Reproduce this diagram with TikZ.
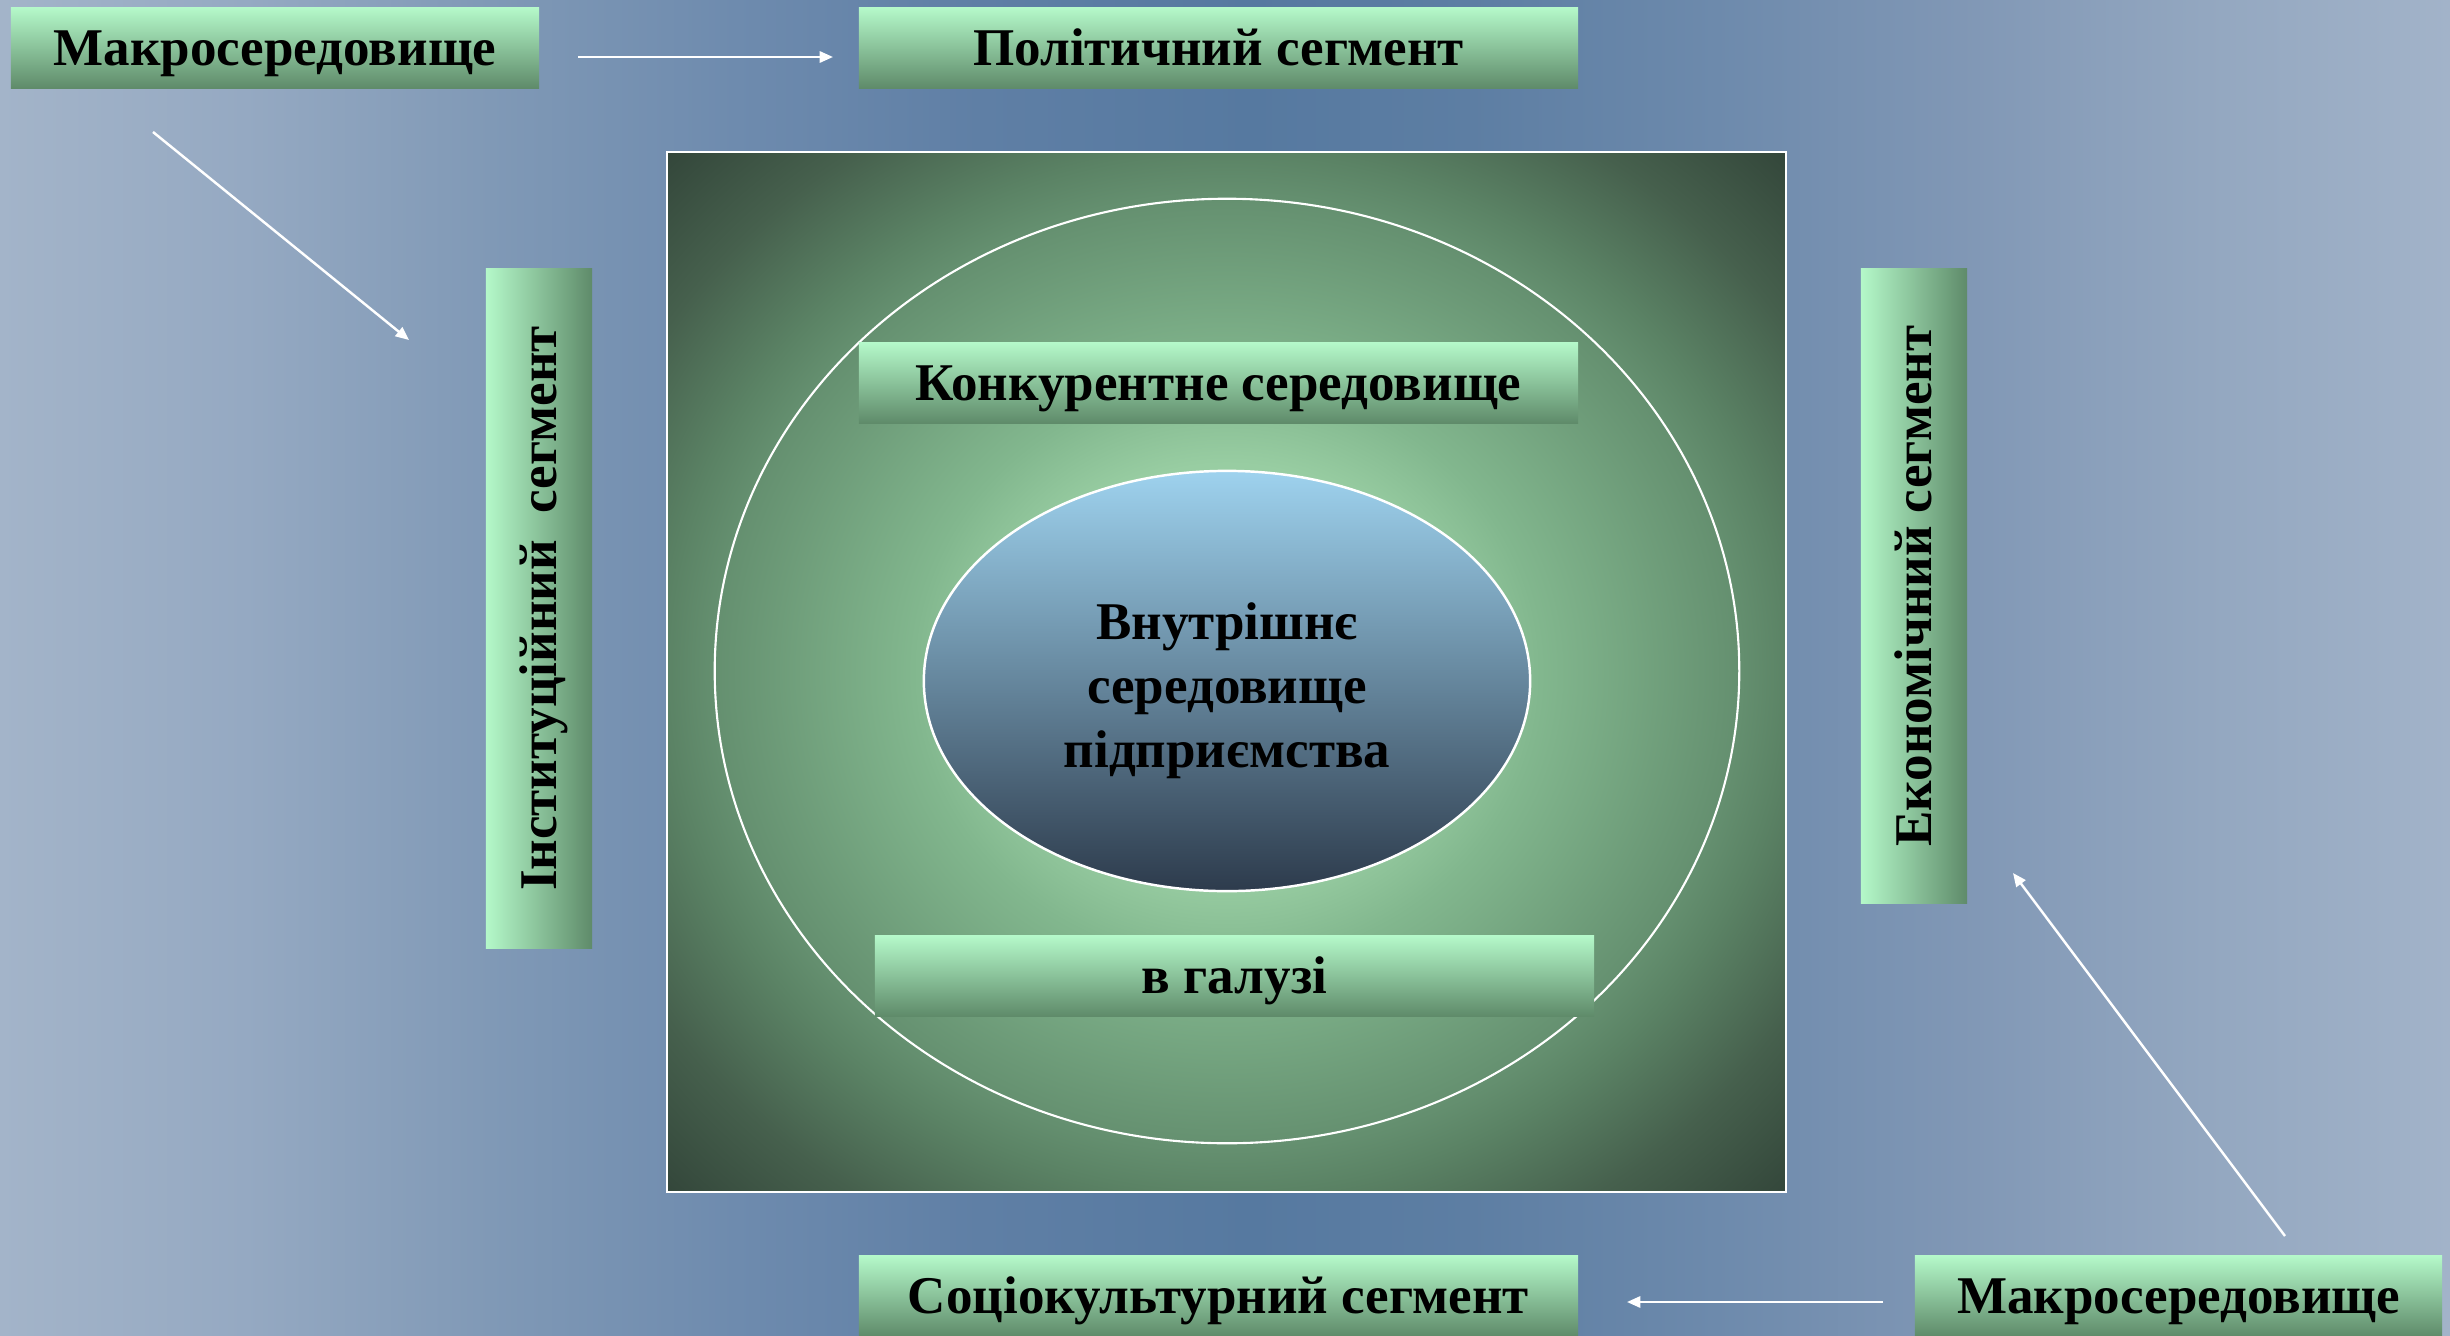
\documentclass[tikz,border=0pt]{standalone}
\usepackage{fontspec}
\setmainfont{Liberation Serif}
\usetikzlibrary{shapes.geometric,arrows.meta}
\definecolor{bgA}{HTML}{A3B4C9}
\definecolor{bgB}{HTML}{95A9C2}
\definecolor{bgC}{HTML}{8099B6}
\definecolor{bgD}{HTML}{6E8BAE}
\definecolor{bgE}{HTML}{5F7FA5}
\definecolor{bgF}{HTML}{5679A0}
\definecolor{bgG}{HTML}{5D7EA3}
\definecolor{bgH}{HTML}{6D8AAC}
\definecolor{bgI}{HTML}{8097B5}
\definecolor{bgJ}{HTML}{93A7C0}
\definecolor{bgK}{HTML}{A2B3C9}
\definecolor{boxtop}{HTML}{B4F8C9}
\definecolor{boxbot}{HTML}{5F8B6A}
\definecolor{gA}{HTML}{A6DDB0}
\definecolor{gB}{HTML}{98CDA2}
\definecolor{gC}{HTML}{82B78E}
\definecolor{gD}{HTML}{648F6F}
\definecolor{gE}{HTML}{5B8365}
\definecolor{gF}{HTML}{46604D}
\definecolor{gG}{HTML}{33463A}
\definecolor{elltop}{HTML}{9ED2EE}
\definecolor{ellbot}{HTML}{2D3B4C}
\pgfdeclareradialshading{sqglow}{\pgfpoint{0bp}{0bp}}{color(0bp)=(gA); color(10bp)=(gB); color(14bp)=(gC); color(23bp)=(gD); color(25bp)=(gE); color(30bp)=(gF); color(35.4bp)=(gG); color(50bp)=(gG)}
\pgfdeclarehorizontalshading{bgband}{100bp}{color(0bp)=(bgA); color(25bp)=(bgA); color(30bp)=(bgB); color(35bp)=(bgC); color(40bp)=(bgD); color(45bp)=(bgE); color(50.5bp)=(bgF); color(55bp)=(bgG); color(60bp)=(bgH); color(65bp)=(bgI); color(70bp)=(bgJ); color(75bp)=(bgK); color(100bp)=(bgK)}
\begin{document}
\begin{tikzpicture}[x=0.01cm,y=-0.01cm,
  txt/.style={font=\fontsize{15.08pt}{18.2pt}\selectfont\bfseries, text=black},
  hbox/.style={txt, shade, top color=boxtop, bottom color=boxbot, inner sep=0pt,
    minimum height=0.80cm, text height=9.98pt, text depth=0pt},
  vbox/.style={txt, shade, left color=boxtop, right color=boxbot, inner sep=0pt,
    minimum width=1.06cm},
  conn/.style={draw=white, line width=0.7pt, -{Triangle[length=3.8pt,width=3.2pt]}}]
\useasboundingbox (0,0) rectangle (2450,1336);
\shade[shading=bgband] (0,0) rectangle (2450,1336);

% central square
\node[shade, shading=sqglow, draw=white, line width=0.5pt, inner sep=0pt,
  minimum width=11.19cm, minimum height=10.40cm] (sq) at (1226.5,672) {};
% outer circle
\node[ellipse, draw=white, line width=0.6pt, inner sep=0pt,
  minimum width=10.24cm, minimum height=9.44cm] (ring) at (1227,671) {};
% inner ellipse
\node[ellipse, shade, top color=elltop, bottom color=ellbot, draw=white, line width=0.7pt,
  inner sep=0pt, minimum width=6.06cm, minimum height=4.20cm] (core) at (1227,681) {};
\node[txt, align=center, inner sep=0pt] (coretext) at (1227,691)
  {Внутрішнє\\середовище\\підприємства};

% inner boxes
\node[hbox, minimum width=7.19cm] (comp) at (1218.5,383) {Конкурентне середовище};
\node[hbox, minimum width=7.19cm] (branch) at (1234.5,976) {в галузі};

% outer boxes
\node[hbox, minimum width=5.28cm] (macroA) at (275,48) {Макросередовище};
\node[hbox, minimum width=7.19cm] (pol) at (1218.5,48) {Політичний сегмент};
\node[hbox, minimum width=7.19cm] (soc) at (1218.5,1296) {Соціокультурний сегмент};
\node[hbox, minimum width=5.27cm] (macroB) at (2178.5,1296) {Макросередовище};
\node[vbox, minimum height=6.79cm] (inst) at (539,608.5)
  {\rotatebox{90}{\raisebox{-4.99pt}[0pt][0pt]{Інституційний~~сегмент}}};
\node[vbox, minimum height=6.34cm] (econ) at (1914,586)
  {\rotatebox{90}{\raisebox{-4.99pt}[0pt][0pt]{Економічний сегмент}}};

% connectors
\coordinate (a1s) at (578,57);   \coordinate (a1e) at (833,57);
\coordinate (a2s) at (153,132);  \coordinate (a2e) at (409,340);
\coordinate (a3s) at (2285,1236); \coordinate (a3e) at (2013,873);
\coordinate (a4s) at (1883,1302); \coordinate (a4e) at (1627,1302);
\draw[conn] (a1s) -- (a1e);
\draw[conn] (a2s) -- (a2e);
\draw[conn] (a3s) -- (a3e);
\draw[conn] (a4s) -- (a4e);
\end{tikzpicture}
\end{document}
